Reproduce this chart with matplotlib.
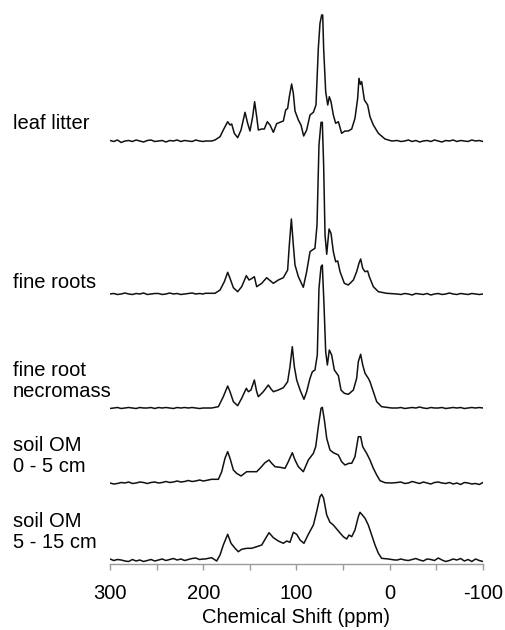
import numpy as np
import matplotlib
matplotlib.use("Agg")
import matplotlib.pyplot as plt

plt.rcParams['font.family'] = ['Liberation Sans', 'DejaVu Sans']

# ---------------- data ----------------
sample_labels = ["leaf litter", "fine roots", "fine root\nnecromass",
                 "soil OM\n0 - 5 cm", "soil OM\n5 - 15 cm"]

xticks = [300, 250, 200, 150, 100, 50, 0, -50, -100]
xtick_labels = ["300", "", "200", "", "100", "", "0", "", "-100"]

# baseline wings (chemical shift grid) and hand-read baseline noise
wing_left_ppm = [300, 296, 292, 288, 284, 280, 276, 272, 268, 264, 260, 256, 252,
                 248, 244, 240, 236, 232, 228, 224, 220, 216, 212, 208, 204, 200]
wing_right_ppm = [-8, -12, -16, -20, -24, -28, -32, -36, -40, -44, -48, -52,
                  -56, -60, -64, -68, -72, -76, -80, -84, -88, -92, -96, -100]

leaf_ppm = [198.1, 191.0, 187.4, 182.0, 178.5, 173.8, 171.3, 169.5, 166.7, 163.1,
            159.5, 155.2, 152.4, 149.9, 147.0, 144.9, 142.7, 140.9, 137.3, 134.5,
            131.3, 128.4, 124.8, 121.3, 117.7, 114.1, 111.6, 109.5, 107.7, 105.2,
            103.4, 101.6, 98.0, 95.2, 92.3, 89.1, 85.5, 81.9, 79.1, 76.6,
            74.8, 73.0, 71.9, 70.9, 68.7, 66.5, 64.8, 63.0, 60.5, 58.0,
            55.1, 51.6, 48.0, 44.4, 40.8, 37.3, 34.4, 33.0, 31.5, 30.1,
            27.2, 23.7, 21.2, 17.6, 12.2, 5.1, -2.1]
leaf_int = [0, 0, 1.0, 4.3, 11, 19.3, 16, 17, 7.7, 3.3,
            11, 28.7, 17.7, 10, 24.3, 39.3, 24.3, 11, 12, 12,
            19.3, 16, 8.7, 17.3, 18.7, 20, 31, 32.7, 44.3, 57,
            47.7, 30, 21, 16, 5, 11, 26, 28.7, 36, 92.7,
            117.7, 126, 126, 92.7, 49.3, 36, 44.3, 39.3, 26, 17.7,
            19.3, 7.7, 10, 10, 12, 22.7, 42.7, 62.7, 56.7, 59.3,
            41, 36, 24.3, 16, 7.7, 2, 0]
leaf_left = [0.5, -0.5, 1.0, -1.5, 0.0, 0.5, -0.5, 1.0, 0.0, -1.0, 0.5, 1.0, -0.5,
             0.0, 0.5, -1.0, 0.5, 0.0, 1.0, -0.5, 0.5, 0.0, -0.5, 1.0, 0.0, -0.5]
leaf_right = [0.5, -0.5, 0.0, 1.0, -0.5, 0.5, -1.0, 0.0, 0.5, -0.5, 1.0, 0.0,
              -1.0, 0.5, 0.0, 1.0, -0.5, 0.5, 0.0, -0.5, 1.0, 0.0, 0.5, -0.5]

roots_ppm = [198.1, 187.4, 182.0, 177.4, 173.8, 171.3, 167.7, 163.1, 158.8, 153.8,
             150.9, 148.8, 145.2, 142.7, 137.3, 132.0, 129.1, 124.8, 119.5, 114.1,
             109.5, 107.7, 105.5, 103.4, 101.6, 98.0, 92.7, 89.1, 85.5, 83.0,
             80.2, 78.0, 75.9, 73.7, 72.3, 70.9, 69.4, 67.6, 65.1, 63.0,
             60.5, 58.0, 55.8, 53.3, 48.7, 44.4, 39.0, 35.5, 33.0, 31.2,
             29.0, 26.5, 23.7, 21.9, 17.6, 12.2, 3.3]
roots_int = [0.7, 0.7, 4, 12.3, 21.7, 15.7, 6.3, 2.3, 7.3, 18.3,
             14, 15, 17.3, 7.3, 10.7, 16.3, 14, 10.7, 14, 16.3,
             24, 49, 75, 49, 29, 17.3, 6.7, 22.3, 42.3, 44,
             45.7, 69, 149, 171.7, 171.7, 129, 59, 39.7, 65, 60.7,
             42.3, 32.3, 33, 22.3, 10.7, 9, 14, 22.3, 30.7, 35,
             25.7, 22.3, 23, 17.3, 7.3, 2.3, 0.7]
roots_left = [0.0, 0.5, -0.5, 0.0, 1.0, 0.0, -0.5, 0.5, 0.0, 1.0, -0.5, 0.0, 0.5,
              0.5, -0.5, 0.0, 1.0, 0.0, 0.5, -0.5, 0.0, 0.5, 1.0, 0.0, 0.5, 0.0]
roots_right = [0.0, -0.5, 0.5, 0.0, -1.0, 0.5, 0.0, -0.5, 0.5, -1.0, 0.0, 0.5,
               -0.5, 0.0, 1.0, 0.0, -0.5, 0.5, 0.0, -0.5, 0.5, 0.0, -0.5, 0.0]

necro_ppm = [198.1, 191.0, 183.8, 178.5, 173.8, 171.3, 167.7, 163.1, 158.8, 153.8,
             151.6, 148.8, 145.2, 142.7, 140.9, 135.6, 130.2, 127.3, 124.8, 119.5,
             114.1, 109.5, 107.0, 104.5, 102.3, 99.8, 96.2, 92.0, 89.1, 85.5,
             83.0, 80.2, 77.7, 75.9, 73.7, 72.3, 70.5, 68.7, 66.9, 64.8,
             62.3, 59.4, 56.9, 55.1, 52.3, 48.7, 44.4, 39.0, 35.5, 33.7,
             31.2, 29.0, 26.5, 23.0, 21.2, 17.6, 14.0, 8.7, -2.1]
necro_int = [0, 0, 1.3, 11.3, 22, 16.3, 6.3, 2.3, 9.7, 19.7,
             16.3, 18, 28, 16.3, 11.3, 16.3, 23, 19, 16.3, 18,
             20.3, 26.3, 41.3, 61.3, 41.3, 28, 18, 8.7, 16.3, 29.7,
             36.3, 38, 53, 119.7, 141.3, 143, 103, 56.3, 43, 58,
             53, 38, 34.7, 32.3, 18, 14.7, 13.7, 18, 29.7, 46.3,
             53.7, 43, 34.7, 29.7, 26.3, 16.3, 6.3, 1.3, 0]
necro_left = [-0.5, 0.0, 0.5, -0.5, 0.0, 0.5, 0.0, -0.5, 0.5, 0.0, 0.0, 0.5, -0.5,
              0.5, 0.0, 0.5, 0.0, -0.5, 0.5, 0.0, 0.5, 0.0, 0.5, 0.0, -0.5, 0.0]
necro_right = [0.0, 0.5, -0.5, 0.0, 0.5, 0.0, 1.0, 0.0, -0.5, 0.5, 0.0, 0.0,
               0.5, -0.5, 0.0, 0.5, 0.0, 0.5, -0.5, 0.0, 0.5, 0.0, 0.5, 0.0]

soil05_ppm = [198.1, 191.0, 183.8, 180.2, 176.7, 173.8, 171.3, 167.7, 164.2, 159.5,
              153.4, 148.1, 142.7, 139.1, 133.8, 129.5, 126.6, 123.0, 117.7, 112.3,
              108.8, 104.5, 101.6, 98.0, 92.7, 87.3, 81.9, 79.4, 76.6, 73.7,
              72.3, 70.1, 67.6, 64.1, 60.5, 55.1, 51.6, 48.0, 43.7, 40.8,
              37.3, 33.7, 31.2, 29.0, 24.8, 21.2, 17.6, 14.0, 10.4, 5.1, -2.1]
soil05_int = [2.3, 3.7, 3.7, 11.3, 24.7, 31.3, 24.7, 13, 9.7, 7,
              11.3, 11.3, 11.3, 14.7, 20.3, 23, 19.7, 16.3, 15.7, 14.7,
              21.3, 30.3, 23, 16.3, 11.3, 23, 29.7, 36.3, 56.3, 74.7,
              75.7, 63, 44.7, 33, 30.3, 28, 21.3, 18, 19.7, 19.7,
              26.3, 46.3, 46.3, 36.3, 29.7, 23, 14.7, 8, 2.3, 0.3, 0]
soil05_left = [0.0, -1.0, -0.5, 0.5, 0.0, 1.0, -0.5, 0.0, 1.0, 0.5, -0.5, 0.5, 1.0,
               0.0, 0.5, 1.5, 0.5, 1.0, 2.0, 1.0, 1.5, 2.5, 1.5, 2.0, 3.0, 2.0]
soil05_right = [0.5, 1.0, -0.5, 0.0, 1.5, 0.5, -0.5, 1.0, 0.0, -1.0, 0.5, 1.0,
                0.0, -0.5, 0.5, -1.0, 0.0, -1.5, 0.5, 0.0, -1.0, -0.5, -1.5, 0.5]

soil515_ppm = [198.1, 191.0, 185.6, 182.0, 178.5, 173.8, 170.2, 165.9, 162.4, 158.8,
               153.4, 148.1, 142.7, 137.3, 132.7, 129.5, 124.8, 119.5, 114.1, 110.5,
               107.0, 103.4, 99.8, 96.2, 92.0, 87.3, 81.9, 78.4, 74.8, 73.0,
               70.9, 67.6, 64.1, 60.5, 55.1, 49.8, 46.2, 43.7, 40.8, 37.3,
               33.7, 31.9, 29.4, 26.5, 23.0, 19.4, 15.8, 12.2, 8.7, 1.5, -5.6]
soil515_int = [1, 2.3, -1, 5, 15, 25.7, 16.7, 11.7, 8.3, 10.7,
               11.7, 11.7, 13.3, 15, 22.3, 27.3, 22.3, 19, 16.7, 19,
               17.7, 27.7, 25.7, 20, 16.7, 25.7, 35, 48.3, 63.3, 65.7,
               61.7, 45, 37.7, 35, 29, 23.3, 21, 25, 23.3, 30,
               43.3, 47.7, 45, 41.7, 35, 25, 15, 6.7, 1.7, 1, 0]
soil515_left = [1.0, -0.5, 0.5, 0.0, -1.0, -1.5, 0.5, -1.0, 0.0, -1.5, -0.5, 0.5, -1.0,
                0.0, 1.0, -0.5, 0.5, 1.5, 0.0, 1.0, -0.5, 0.5, 1.5, 2.0, 0.5, 1.0]
soil515_right = [0.0, 1.0, 0.0, -0.5, 0.5, 1.5, 0.0, -1.0, 1.0, 0.5, -0.5, 2.0,
                 0.0, -1.5, -0.5, 1.0, 0.0, 1.5, -1.0, 0.5, -1.5, 1.0, -0.5, -1.5]

# ---------------- layout ----------------
W, H = 506, 630
offsets = [423, 270, 156, 81, 4]           # vertical stacking (px above axis line)
label_baseline_px = [129, 288, 397, 472, 548]

spectra = [
    (leaf_ppm, leaf_int, leaf_left, leaf_right),
    (roots_ppm, roots_int, roots_left, roots_right),
    (necro_ppm, necro_int, necro_left, necro_right),
    (soil05_ppm, soil05_int, soil05_left, soil05_right),
    (soil515_ppm, soil515_int, soil515_left, soil515_right),
]

fig = plt.figure(figsize=(W / 100, H / 100), dpi=100)
ax = fig.add_axes([110 / W, (H - 564) / H, (483 - 110) / W, (564 - 10) / H])

for (ppm, inten, wl, wr), off in zip(spectra, offsets):
    x = np.concatenate([wing_left_ppm, ppm, wing_right_ppm])
    y = np.concatenate([wl, inten, wr]) + off
    ax.plot(x, y, color='#111111', lw=1.1, solid_joinstyle='round')

ax.set_xlim(300, -100)
ax.set_ylim(0, 554)
for s in ['top', 'left', 'right']:
    ax.spines[s].set_visible(False)
ax.spines['bottom'].set_color('#9a9a9a')
ax.spines['bottom'].set_linewidth(1.0)
ax.set_yticks([])
ax.set_xticks(xticks)
ax.set_xticklabels(xtick_labels)
ax.tick_params(axis='x', direction='out', length=4.5, width=1.0,
               color='#9a9a9a', labelsize=14.5, pad=10)
ax.set_xlabel("Chemical Shift (ppm)", fontsize=14.5, labelpad=3.5)

for lab, yb in zip(sample_labels, label_baseline_px):
    fig.text(13 / W, 1 - yb / H, lab, fontsize=14.5, ha='left', va='baseline',
             linespacing=1.15)

fig.savefig("out.png", dpi=100)
